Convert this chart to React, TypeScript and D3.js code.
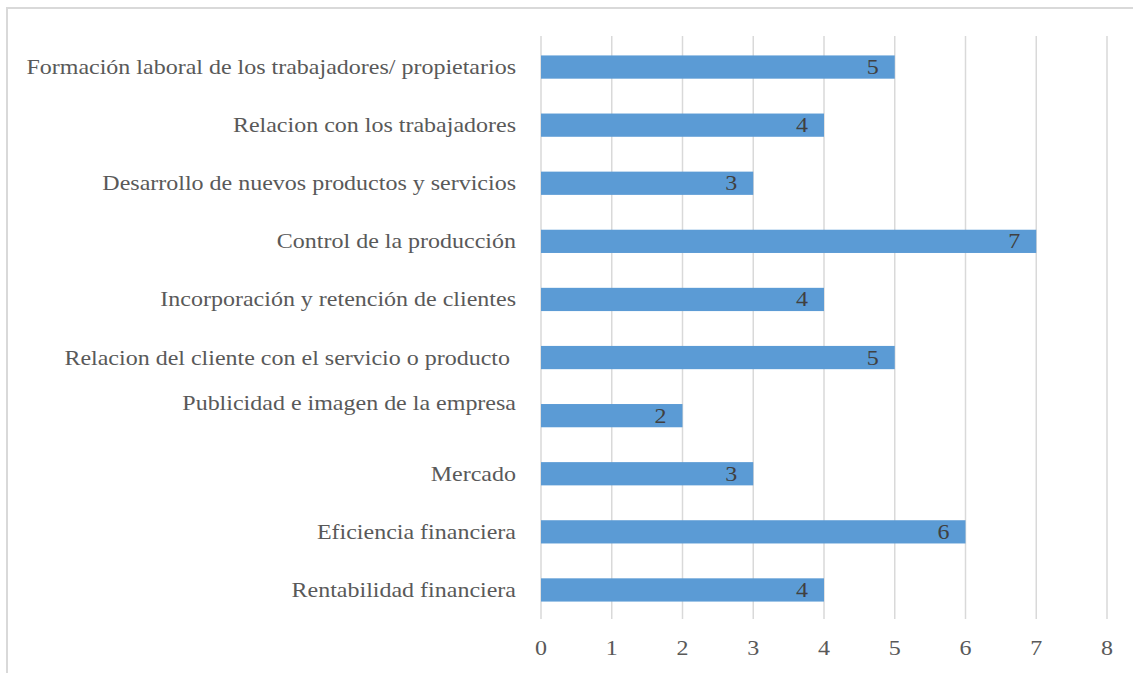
import React from "react";
import * as d3 from "d3";

const categories = [
  "Formación laboral de los trabajadores/ propietarios",
  "Relacion con los trabajadores",
  "Desarrollo de nuevos productos y servicios",
  "Control de la producción",
  "Incorporación y retención de clientes",
  "Relacion del cliente con el servicio o producto ",
  "Publicidad e imagen de la empresa",
  "Mercado",
  "Eficiencia financiera",
  "Rentabilidad financiera",
];
const values = [5, 4, 3, 7, 4, 5, 2, 3, 6, 4];
const xTicks = [0, 1, 2, 3, 4, 5, 6, 7, 8];
const labelShift: Record<string, number> = { "Publicidad e imagen de la empresa": -13 };

const W = 1133;
const H = 673;
const M = { left: 541, right: 26, top: 38, bottom: 54 };
const SX = 1.2;

export default function App() {
  const x = d3.scaleLinear().domain([0, 8]).range([M.left, W - M.right]);
  const y = d3
    .scaleBand<string>()
    .domain(categories)
    .range([M.top, H - M.bottom])
    .paddingInner(0.6)
    .paddingOuter(0.3);
  const font = "Liberation Serif";
  const T = (props: { x: number; y: number; anchor: string; fill: string; children: React.ReactNode }) => (
    <text
      transform={`translate(${props.x},${props.y}) scale(${SX},1)`}
      dy="0.35em"
      textAnchor={props.anchor}
      fontSize={20}
      fill={props.fill}
      style={{ whiteSpace: "pre", fontFamily: font }}
    >
      {props.children}
    </text>
  );
  return (
    <svg width={W} height={H} style={{ position: "absolute", left: 0, top: 0, background: "#fff" }}>
      <rect x={7} y={8} width={W + 10} height={H + 10} fill="#fff" stroke="#d9d9d9" strokeWidth={2} />
      {xTicks.map((t) => (
        <line key={"g" + t} x1={x(t)} x2={x(t)} y1={36} y2={619} stroke="#d9d9d9" strokeWidth={1.5} />
      ))}
      {categories.map((c, i) => (
        <g key={c}>
          <rect x={x(0)} y={y(c)!} width={x(values[i]) - x(0)} height={y.bandwidth()} fill="#5b9bd5" />
          <T x={x(values[i]) - 16} y={y(c)! + y.bandwidth() / 2} anchor="end" fill="#404040">
            {values[i]}
          </T>
          <T x={516} y={y(c)! + y.bandwidth() / 2 + (labelShift[c] || 0)} anchor="end" fill="#595959">
            {c}
          </T>
        </g>
      ))}
      {xTicks.map((t) => (
        <T key={"t" + t} x={x(t)} y={648} anchor="middle" fill="#595959">
          {t}
        </T>
      ))}
    </svg>
  );
}
